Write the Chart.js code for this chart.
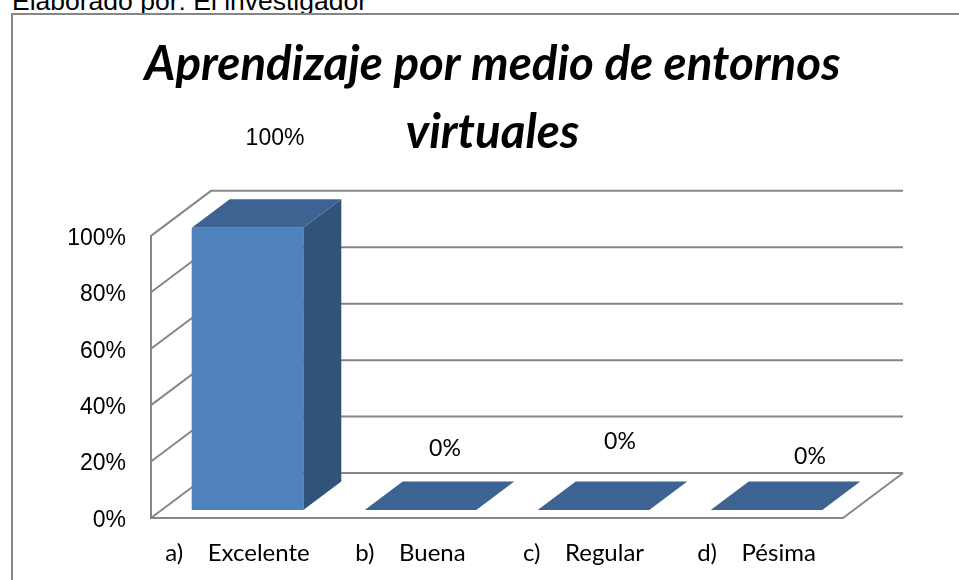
<!DOCTYPE html>
<html>
<head>
<meta charset="utf-8">
<style>
html, body { margin: 0; padding: 0; width: 959px; height: 580px; overflow: hidden; background: #fff; }
#caption { position: absolute; left: 12px; top: -14px; font: 26.5px "Liberation Sans", sans-serif; color: #000; white-space: nowrap; }
#frame { position: absolute; left: 11px; top: 13px; width: 970px; height: 590px; border: 2px solid #868686; }
canvas { position: absolute; left: 0; top: 0; }
</style>
</head>
<body>
<div id="caption">Elaborado por: El investigador</div>
<div id="frame"></div>
<canvas id="chart" width="959" height="580"></canvas>
<script src="https://cdn.jsdelivr.net/npm/chart.js@4"></script>
<script>
const categories = ['a)    Excelente', 'b)    Buena', 'c)    Regular', 'd)    Pésima'];
const values = [100, 0, 0, 0];
const titleLines = ['Aprendizaje por medio de entornos', 'virtuales'];

// hand moved data labels, relative to the top of each bar
const labelNudgeX = [37.5, 34.5, 36.5, 53.5];
const labelNudgeY = [-97, -69, -76, -61];

const lineGrey = '#868686';
const wallDepth = { x: 60, y: 45 };
const barDepth = { x: 38, y: 28.5 };
const barShift = { x: 10, y: -8 };

function poly(ctx, pts, color) {
    ctx.fillStyle = color;
    ctx.beginPath();
    ctx.moveTo(pts[0][0], pts[0][1]);
    pts.slice(1).forEach(p => ctx.lineTo(p[0], p[1]));
    ctx.closePath();
    ctx.fill();
}

const fake3d = {
    id: 'fake3d',
    afterLayout(chart) {
        // title is centred on the whole frame, not on the plot
        chart.titleBlock.left = 12;
        chart.titleBlock.right = 973;
    },
    beforeDatasetsDraw(chart) {
        const ctx = chart.ctx;
        const y = chart.scales.y;
        const a = chart.chartArea;
        const d = wallDepth;

        // side wall, back wall and floor lines
        ctx.save();
        ctx.strokeStyle = lineGrey;
        ctx.lineWidth = 2;
        y.ticks.forEach(t => {
            const py = y.getPixelForValue(t.value);
            ctx.beginPath();
            ctx.moveTo(a.left, py);
            ctx.lineTo(a.left + d.x, py - d.y);
            ctx.lineTo(a.right + d.x, py - d.y);
            ctx.stroke();
        });
        ctx.beginPath();
        ctx.moveTo(a.right, a.bottom);
        ctx.lineTo(a.right + d.x, a.bottom - d.y);
        ctx.stroke();
        ctx.restore();

        // bars sit a little into the floor, native front face is drawn in this shifted frame
        ctx.save();
        ctx.translate(barShift.x, barShift.y);
        chart.getDatasetMeta(0).data.forEach(bar => {
            const l = bar.x - bar.width / 2;
            const r = bar.x + bar.width / 2;
            const dx = barDepth.x;
            const dy = barDepth.y;
            if (bar.base > bar.y) {
                poly(ctx, [[r, bar.y], [r + dx, bar.y - dy], [r + dx, bar.base - dy], [r, bar.base]], '#325378');
            }
            poly(ctx, [[l, bar.y], [l + dx, bar.y - dy], [r + dx, bar.y - dy], [r, bar.y]], '#3C6391');
        });
    },
    afterDatasetsDraw(chart) {
        const ctx = chart.ctx;
        ctx.restore();

        ctx.save();
        ctx.fillStyle = '#000';
        ctx.textAlign = 'center';
        ctx.textBaseline = 'middle';
        chart.getDatasetMeta(0).data.forEach((bar, i) => {
            ctx.font = values[i] === 100 ? '23px "Liberation Sans"' : '23px Lato';
            ctx.fillText(values[i] + '%', bar.x + labelNudgeX[i], bar.y + labelNudgeY[i]);
        });
        ctx.restore();
    }
};

new Chart(document.getElementById('chart').getContext('2d'), {
    type: 'bar',
    data: {
        labels: categories,
        datasets: [{
            data: values,
            backgroundColor: '#4F81BD',
            borderWidth: 0,
            barPercentage: 0.645,
            categoryPercentage: 1
        }]
    },
    options: {
        responsive: false,
        animation: false,
        layout: { padding: { left: 0, right: 116, top: 0, bottom: 0 } },
        plugins: {
            legend: { display: false },
            tooltip: { enabled: false },
            title: {
                display: true,
                text: titleLines,
                color: '#000',
                font: { family: 'Lato', size: 47.5, weight: 'bold', style: 'italic', lineHeight: 1.43 },
                padding: { top: 31, bottom: 69 }
            }
        },
        scales: {
            x: {
                afterFit(scale) { scale.height = 62; },
                grid: { display: false },
                border: { display: true, color: lineGrey, width: 2 },
                ticks: { color: '#000', font: { family: 'Lato', size: 24 }, padding: 13, maxRotation: 0, autoSkip: false }
            },
            y: {
                min: 0,
                max: 100,
                afterFit(scale) { scale.width = 151; },
                grid: { display: false },
                border: { display: true, color: lineGrey, width: 2 },
                ticks: {
                    stepSize: 20,
                    color: '#000',
                    padding: 17,
                    labelOffset: 2.5,
                    font: { family: 'Liberation Sans', size: 23 },
                    callback: v => v + '%'
                }
            }
        }
    },
    plugins: [fake3d]
});
</script>
</body>
</html>
